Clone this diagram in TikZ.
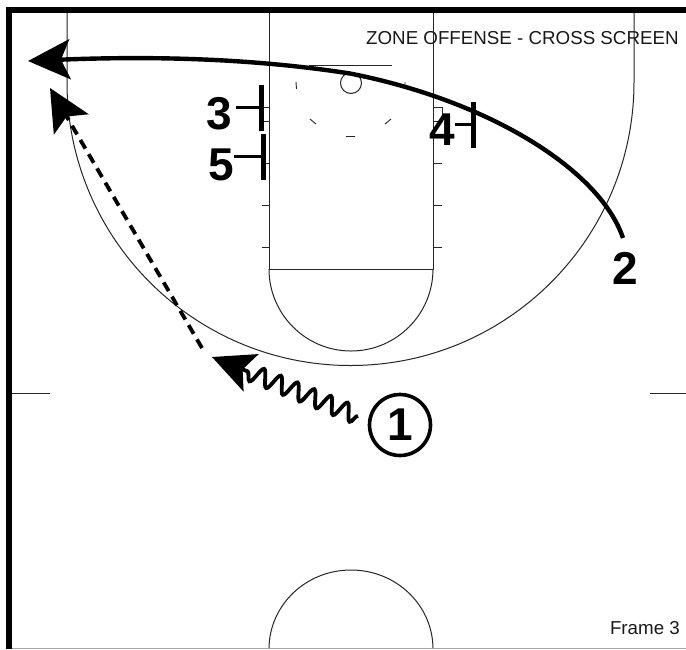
\documentclass[tikz,border=0pt]{standalone}
\usepackage{fontspec}
\setmainfont{Liberation Sans}
\usetikzlibrary{arrows.meta,decorations.pathmorphing}
\tikzset{
  court/.style={line width=1pt,black!85},
  tick/.style={line width=0.9pt,black!85},
  frameedge/.style={line width=6pt,black},
  num/.style={font=\fontsize{46}{46}\selectfont\bfseries,inner sep=0pt},
  caption/.style={font=\fontsize{18.74}{18.74}\selectfont,inner sep=0pt,black!90},
  bighead/.style={-{Stealth[length=42pt,width=40pt,inset=9pt]}},
  cut/.style={line width=4.4pt,bighead},
  pass/.style={line width=3.8pt,bighead,dash pattern=on 10pt off 6.5pt},
  dribble/.style={line width=3.8pt,bighead,decorate,decoration={snake,amplitude=8.5pt,segment length=18pt,post=lineto,post length=36pt}},
  screenbar/.style={line width=5pt},
  screenarm/.style={line width=3pt}
}
\begin{document}
\begin{tikzpicture}[x=1pt,y=-1pt]
\useasboundingbox (0,0) rectangle (686,649);
\fill[white] (0,0) rectangle (686,649);
\begin{scope}
\clip (0,0) rectangle (686,649);
% court
\draw[court] (269,13) -- (269,269) -- (433,269) -- (433,13);
\draw[court] (269,269) arc[start angle=180,delta angle=-180,radius=82];
\draw[court] (67,13) -- (67,82) arc[start angle=180,delta angle=-180,radius=283.5] -- (634,13);
\draw[court] (12,393) -- (50,393) (650,393) -- (686,393);
\draw[court] (269,649) arc[start angle=180,delta angle=180,x radius=82,y radius=79];
\draw[court] (309,65) -- (392,65);
\draw[court] (351,83) circle[radius=10.5];
% lane hash marks
\foreach \y in {107,121,163,205,247} \draw[tick] (262,\y) -- (269,\y);
\foreach \y in {163,205,247} \draw[tick] (433,\y) -- (442,\y);
\draw[tick] (433,107) -- (442,107) -- (442,121) -- (433,121);
% restricted area dashes
\draw[tick] (296,82) -- (296.5,89) (310,119) -- (316,124) (346,136.5) -- (355,136.5)
  (391,119) -- (385,124) (405,82) -- (405,89);
\draw[line width=0.8pt,black!35] (12,648.5) -- (686,648.5);
\draw[frameedge] (9,649) -- (9,10) -- (686,10);
\end{scope}
% text
\node[caption,anchor=base west] (title) at (366,44) {ZONE OFFENSE - CROSS SCREEN};
\node[caption,anchor=base east] (frame) at (680,634) {Frame 3};
% players
\node[num,anchor=base] (p3) at (219,129) {3};
\node[num,anchor=base] (p5) at (221.5,180) {5};
\node[num,anchor=base] (p4) at (442.5,145) {4};
\node[num,anchor=base] (p2) at (625,284) {2};
\node[draw,circle,line width=3.6pt,minimum size=61pt,inner sep=0pt,font=\fontsize{46}{46}\selectfont\bfseries] (p1) at (400,425) {1};
% screens
\coordinate (s3) at (261.5,107.5);
\coordinate (s5) at (263,156.5);
\coordinate (s4) at (473,124.5);
\draw[screenbar] (261.5,85) -- (261.5,130.5);
\draw[screenarm] (p3.east |- s3) ++(4,0) -- (s3);
\draw[screenbar] (263,134) -- (263,180);
\draw[screenarm] (p5.east |- s5) -- (s5);
\draw[screenbar] (473,102) -- (473,147.5);
\draw[screenarm] (p4.east |- s4) -- (s4);
% movements
\coordinate (cutstart) at (623,238);
\coordinate (cutmid) at (350,73.5);
\coordinate (cutend) at (28,61);
\draw[cut] (cutstart) .. controls (600,170) and (490,101) .. (cutmid)
  .. controls (250,58) and (150,56) .. (cutend);
\coordinate (passstart) at (202,348);
\coordinate (passend) at (50,88);
\draw[pass] (passstart) -- (passend);
\coordinate (dribstart) at (358,416);
\coordinate (dribend) at (212,357);
\draw[dribble] (dribstart) -- (dribend);
\end{tikzpicture}
\end{document}
